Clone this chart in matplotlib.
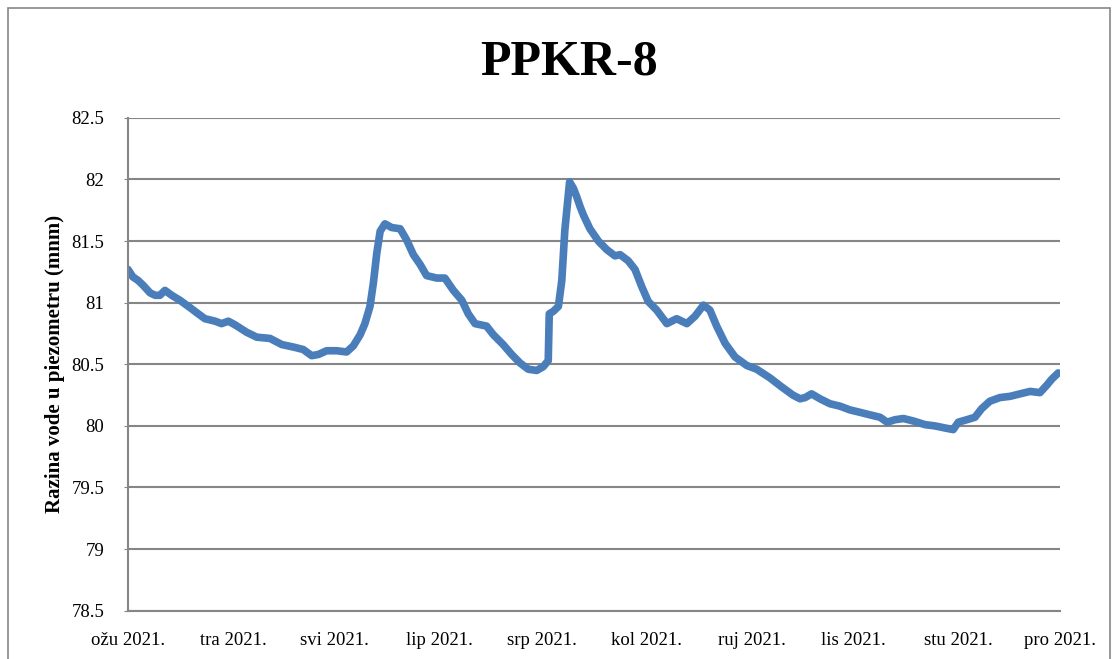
import matplotlib
matplotlib.use('Agg')
import matplotlib.pyplot as plt
from matplotlib.patches import Rectangle
import pandas as pd

# Water level readings, days after 1 March 2021
days = [0, 1.4, 3.0, 4.5, 6.5, 8.0, 9.4, 10.9, 12.9, 15.3, 18.3, 20.7, 22.7, 25.7,
        27.6, 29.6, 31.6, 35.0, 38.0, 41.9, 45.4, 48.8, 51.7, 54.2, 56.2, 58.6,
        61.6, 64.5, 66.5, 68.5, 69.9, 71.4, 72.4, 73.4, 74.4, 75.8, 77.8, 80.3,
        82.2, 84.2, 86.2, 88.1, 91.1, 93.5, 96.0, 98.5, 100.4, 102.4, 105.8,
        107.8, 110.7, 113.2, 115.7, 118.1, 120.6, 122.5, 124.0, 124.3, 125.5,
        127.0, 128.0, 128.9, 130.3, 131.4, 132.4, 133.4, 134.4, 136.3, 138.8,
        141.3, 143.7, 145.2, 147.6, 149.6, 151.6, 153.5, 156.0, 159.0, 161.9,
        164.9, 167.3, 169.8, 171.7, 173.7, 176.2, 179.1, 182.6, 185.5, 189.4,
        192.7, 196.2, 198.3, 199.8, 201.7, 204.2, 207.1, 210.1, 213.0, 216.0,
        218.9, 221.9, 224.0, 226.3, 228.8, 231.7, 235.2, 238.1, 241.6, 243.5,
        245.0, 247.5, 249.9, 251.9, 254.3, 257.3, 260.3, 263.2, 266.2, 269.1,
        271.1, 272.6, 274.5]
levels = [81.27, 81.21, 81.18, 81.14, 81.08, 81.06, 81.06, 81.10, 81.06, 81.02,
          80.96, 80.91, 80.87, 80.85, 80.83, 80.85, 80.82, 80.76, 80.72, 80.71,
          80.66, 80.64, 80.62, 80.57, 80.58, 80.61, 80.61, 80.60, 80.65, 80.74,
          80.83, 80.97, 81.16, 81.40, 81.58, 81.64, 81.61, 81.60, 81.51, 81.39,
          81.31, 81.22, 81.20, 81.20, 81.10, 81.02, 80.91, 80.83, 80.81, 80.74,
          80.66, 80.58, 80.51, 80.46, 80.45, 80.48, 80.53, 80.91, 80.93, 80.97,
          81.18, 81.59, 81.98, 81.93, 81.86, 81.78, 81.71, 81.60, 81.50, 81.43,
          81.38, 81.39, 81.34, 81.27, 81.13, 81.01, 80.94, 80.83, 80.87, 80.83,
          80.89, 80.98, 80.94, 80.81, 80.67, 80.56, 80.49, 80.46, 80.39, 80.32,
          80.25, 80.22, 80.23, 80.26, 80.22, 80.18, 80.16, 80.13, 80.11, 80.09,
          80.07, 80.03, 80.05, 80.06, 80.04, 80.01, 80.00, 79.98, 79.97, 80.03,
          80.05, 80.07, 80.14, 80.20, 80.23, 80.24, 80.26, 80.28, 80.27, 80.33,
          80.38, 80.43]
month_labels = ['ožu 2021.', 'tra 2021.', 'svi 2021.', 'lip 2021.', 'srp 2021.',
                'kol 2021.', 'ruj 2021.', 'lis 2021.', 'stu 2021.', 'pro 2021.']
y_ticks = [78.5, 79, 79.5, 80, 80.5, 81, 81.5, 82, 82.5]
y_labels = ['78.5', '79', '79.5', '80', '80.5', '81', '81.5', '82', '82.5']

start = pd.Timestamp('2021-03-01')
dates = start + pd.to_timedelta(days, unit='D')
month_ticks = pd.date_range('2021-03-01', '2021-12-01', freq='MS')

plt.rcParams['font.family'] = 'Liberation Serif'

fig = plt.figure(figsize=(11.2, 6.59), dpi=100)
ax = fig.add_axes([0.1143, 0.0733, 0.8321, 0.7478])

# outer chart border
fig.patches.append(Rectangle((0.007, -0.02), 0.984, 1.008, transform=fig.transFigure,
                             fill=False, edgecolor='#868686', linewidth=1.2))

ax.plot(dates, levels, color='#4A7EBB', linewidth=5.5, solid_capstyle='round',
        solid_joinstyle='round')

ax.set_ylim(78.5, 82.5)
ax.set_yticks(y_ticks)
ax.set_yticklabels(y_labels)
ax.set_xlim(month_ticks[0], month_ticks[-1])
ax.set_xticks(month_ticks)
ax.set_xticklabels(month_labels)

ax.grid(axis='y', color='#868686', linewidth=1.5)
ax.set_axisbelow(True)
for side in ['top', 'right']:
    ax.spines[side].set_visible(False)
for side in ['left', 'bottom']:
    ax.spines[side].set_color('#868686')
    ax.spines[side].set_linewidth(1.5)
ax.tick_params(axis='y', length=3, color='#868686', labelsize=13.5, pad=14)
ax.tick_params(axis='x', length=0, labelsize=13.5, pad=15)

ax.set_ylabel('Razina vode u piezometru (mnm)', fontsize=15, fontweight='bold')
ax.yaxis.set_label_coords(-0.068, 0.5)
fig.text(0.508, 0.905, 'PPKR-8', ha='center', va='center', fontsize=36, fontweight='bold')

fig.savefig('out.png', dpi=100)
